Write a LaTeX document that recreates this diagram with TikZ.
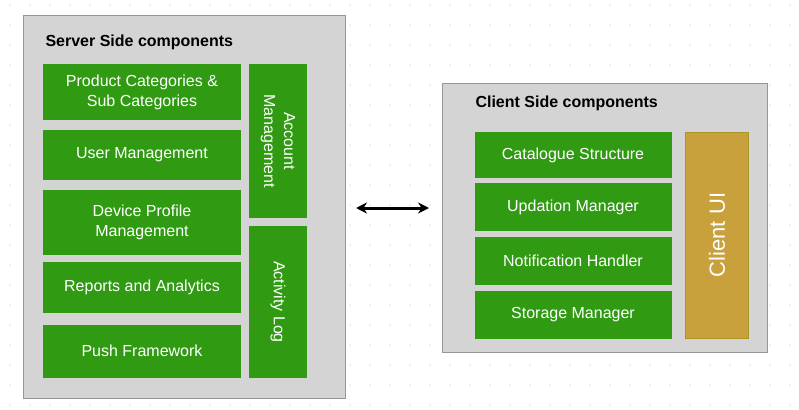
\documentclass[tikz,border=0pt]{standalone}
\usepackage{fontspec}
\setmainfont{Liberation Sans}
\usetikzlibrary{arrows.meta}
\definecolor{boxgreen}{RGB}{48,155,18}
\definecolor{panelgray}{RGB}{212,212,212}
\definecolor{panelline}{RGB}{150,150,150}
\definecolor{uigold}{RGB}{200,160,60}
\definecolor{uiline}{RGB}{170,150,40}
\tikzset{
  panel/.style={draw=panelline, fill=panelgray, line width=1pt},
  gbox/.style={fill=boxgreen, text=white, align=center, inner sep=0pt, font=\fontsize{16}{20}\selectfont},
  title/.style={anchor=west, font=\bfseries\fontsize{16}{20}\selectfont}
}
\begin{document}
\begin{tikzpicture}[x=1pt, y=-1pt]
  \useasboundingbox (0,0) rectangle (799,409);
  % dotted background
  \foreach \i in {0,...,39}{
    \foreach \j in {0,...,20}{
      \fill[black!12] (\i*20+10,\j*20+5) circle (0.8);
    }
  }
  % server side
  \node[panel, minimum width=322, minimum height=383] (server) at (184,207) {};
  \node[title] (servertitle) at (42,42) {Server Side components};
  \node[gbox, minimum width=198, minimum height=56] (product) at (142,92) {Product Categories \&\\Sub Categories};
  \node[gbox, minimum width=198, minimum height=50] (user) at (142,155) {User Management};
  \node[gbox, minimum width=198, minimum height=65] (device) at (142,222) {Device Profile\\Management};
  \node[gbox, minimum width=198, minimum height=51] (reports) at (142,287) {Reports and Analytics};
  \node[gbox, minimum width=198, minimum height=53] (push) at (142,351) {Push Framework};
  \node[gbox, minimum width=154, minimum height=58, rotate=-90] (account) at (278,141) {Account\\Management};
  \node[gbox, minimum width=152, minimum height=58, rotate=-90] (activity) at (278,302) {Activity Log};
  % client side
  \node[panel, minimum width=325, minimum height=268] (client) at (605,218) {};
  \node[title] (clienttitle) at (472,103) {Client Side components};
  \node[gbox, minimum width=197, minimum height=46] (catalogue) at (573,155) {Catalogue Structure};
  \node[gbox, minimum width=197, minimum height=48] (updation) at (573,207) {Updation Manager};
  \node[gbox, minimum width=197, minimum height=48] (notification) at (573,261) {Notification Handler};
  \node[gbox, minimum width=197, minimum height=48] (storage) at (573,315) {Storage Manager};
  \node[draw=uiline, fill=uigold, line width=1pt, text=white, rotate=90, minimum width=206, minimum height=63, font=\fontsize{22}{26}\selectfont] (clientui) at (717,235) {Client UI};
  % link
  \coordinate (linkl) at (356,208);
  \coordinate (linkr) at (429,208);
  \draw[{Stealth[length=11pt,width=11pt]}-{Stealth[length=11pt,width=11pt]}, line width=3pt] (linkl) -- (linkr);
\end{tikzpicture}
\end{document}
